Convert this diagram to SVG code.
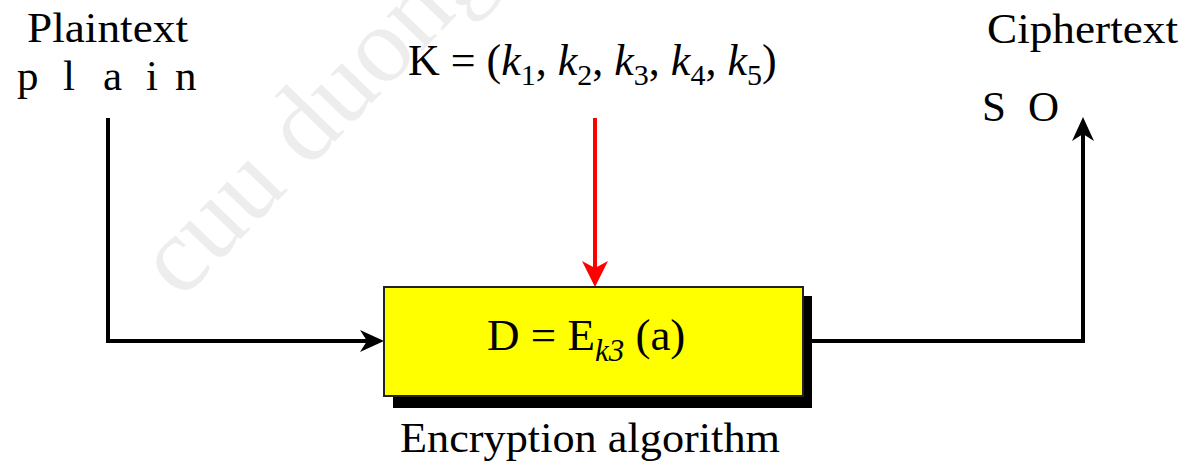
<svg xmlns="http://www.w3.org/2000/svg" width="1185" height="468" viewBox="0 0 1185 468">
<style>
text { font-family: "Liberation Serif", "Times New Roman", serif; fill: #000; }
.lbl { font-size: 43px; }
.wm { font-size: 108px; fill: #000; fill-opacity: 0.07; }
.line { fill: none; stroke: #000; stroke-width: 4; }
.red { fill: none; stroke: #ff0000; stroke-width: 4; }
</style>
<defs>
<marker id="ah" viewBox="-25 -12 26 24" refX="-8" refY="0" markerWidth="26" markerHeight="24" markerUnits="userSpaceOnUse" orient="auto">
<path d="M0,0 L-24,-11 L-17,0 L-24,11 Z" fill="#000"/>
</marker>
<marker id="ahr" viewBox="-27 -14 28 28" refX="-8" refY="0" markerWidth="28" markerHeight="28" markerUnits="userSpaceOnUse" orient="auto">
<path d="M0,0 L-26,-13 L-19,0 L-26,13 Z" fill="#ff0000"/>
</marker>
</defs>
<rect width="1185" height="468" fill="#fff"/>
<text class="wm" x="181" y="301" transform="rotate(-46 181 301)">cuu duong</text>
<g id="connectors">
<path class="line" d="M108,118 V341 H376" marker-end="url(#ah)"/>
<path class="red" d="M595,118 V279" marker-end="url(#ahr)"/>
<path class="line" d="M812,341 H1083 V125" marker-end="url(#ah)"/>
</g>
<g id="plaintext">
<text class="lbl" x="27" y="42" textLength="161" lengthAdjust="spacingAndGlyphs">Plaintext</text>
<text class="lbl" y="90"><tspan x="17">p</tspan><tspan x="63">l</tspan><tspan x="103">a</tspan><tspan x="146">i</tspan><tspan x="175">n</tspan></text>
</g>
<g id="key">
<text x="408" y="75" font-size="44">K = (<tspan font-style="italic">k</tspan><tspan font-size="30" dy="10">1</tspan><tspan dy="-10">, </tspan><tspan font-style="italic">k</tspan><tspan font-size="30" dy="10">2</tspan><tspan dy="-10">, </tspan><tspan font-style="italic">k</tspan><tspan font-size="30" dy="10">3</tspan><tspan dy="-10">, </tspan><tspan font-style="italic">k</tspan><tspan font-size="30" dy="10">4</tspan><tspan dy="-10">, </tspan><tspan font-style="italic">k</tspan><tspan font-size="30" dy="10">5</tspan><tspan dy="-10">)</tspan></text>
</g>
<g id="ciphertext">
<text class="lbl" x="987" y="43" textLength="191" lengthAdjust="spacingAndGlyphs">Ciphertext</text>
<text class="lbl" y="121"><tspan x="982">S</tspan><tspan x="1028">O</tspan></text>
</g>
<g id="encryption">
<rect x="393" y="296" width="419" height="112" fill="#000"/>
<rect x="384" y="287" width="419" height="109" fill="#ffff00" stroke="#222" stroke-width="2"/>
<text x="487" y="350" font-size="45">D = E<tspan font-size="31" font-style="italic" dy="11">k3</tspan><tspan dy="-11"> (a)</tspan></text>
<text class="lbl" x="590" y="452" text-anchor="middle" textLength="380" lengthAdjust="spacingAndGlyphs">Encryption algorithm</text>
</g>
</svg>
